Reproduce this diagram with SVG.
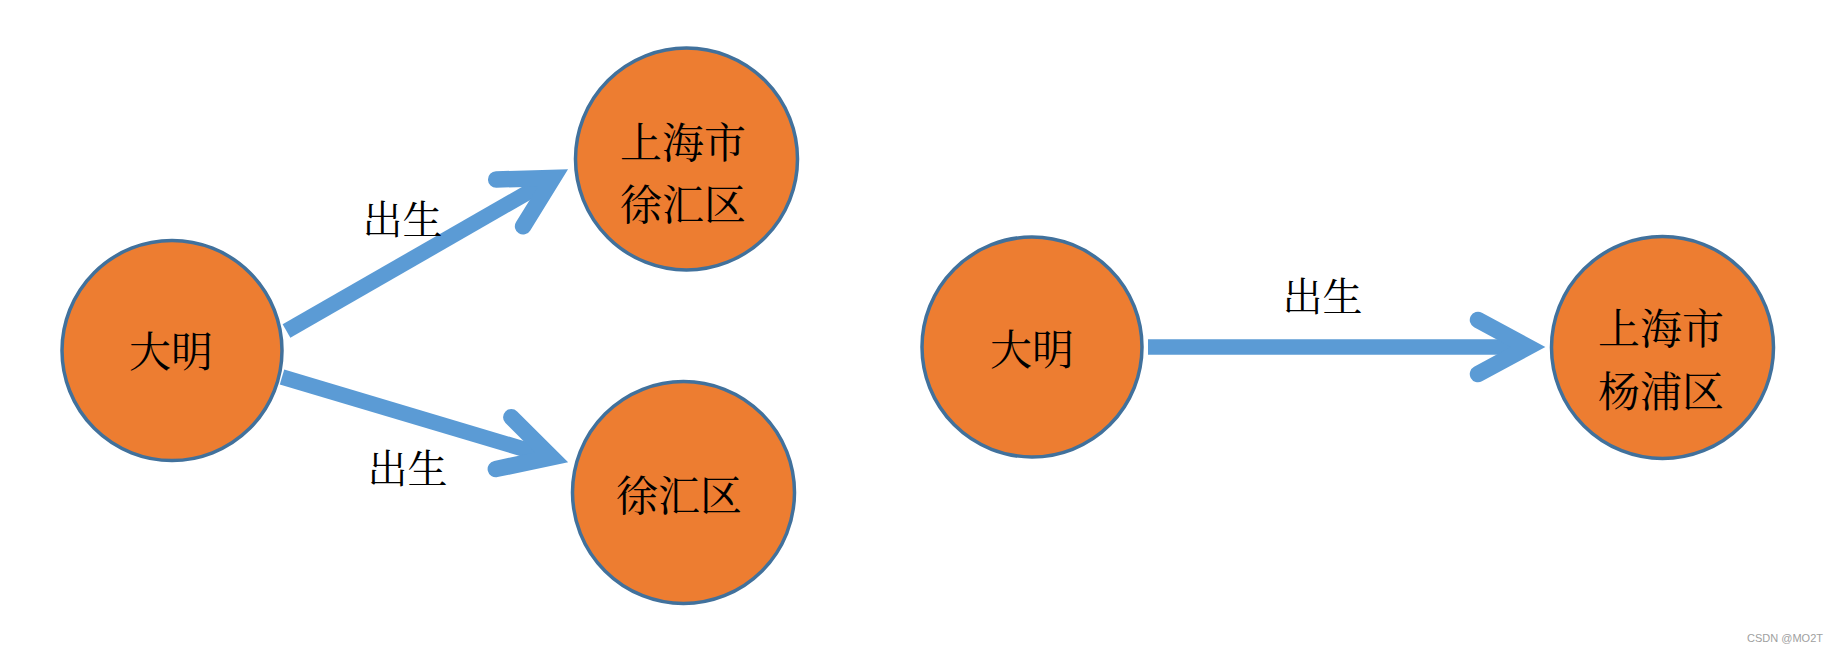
<svg xmlns="http://www.w3.org/2000/svg" width="1832" height="652" viewBox="0 0 1832 652">
<style>
.node circle{fill:#ED7D31;stroke:#41719C;stroke-width:3.5}
.node text,.lbl{font-family:"Noto Serif CJK SC","Noto Sans CJK SC",serif;font-size:42px;fill:#000;text-anchor:middle;dominant-baseline:central}
.lbl{font-size:40px}
.edge{stroke:#5B9BD5;stroke-width:15.5;fill:none;stroke-linecap:butt}
.wm{font-family:"Liberation Sans",Arial,sans-serif;font-size:11px;fill:#a0a0a0;text-anchor:end}
</style>
<defs>
<marker id="ah" markerUnits="userSpaceOnUse" orient="auto" viewBox="-70 -50 100 100" refX="0" refY="0" markerWidth="100" markerHeight="100" overflow="visible">
<path d="M-50,-27 L0,0 L-50,27" fill="none" stroke="#5B9BD5" stroke-width="16.5" stroke-linecap="round" stroke-linejoin="miter"/>
</marker>
</defs>
<rect width="1832" height="652" fill="#fff"/>
<g id="connectors">
<line class="edge" x1="286.5" y1="331" x2="553" y2="178" marker-end="url(#ah)"/>
<line class="edge" x1="282" y1="377" x2="551.5" y2="457.4" marker-end="url(#ah)"/>
<line class="edge" x1="1148" y1="347" x2="1528" y2="347" marker-end="url(#ah)"/>
<text class="lbl" x="402.5" y="216">出生</text>
<text class="lbl" x="407.5" y="465">出生</text>
<text class="lbl" x="1322.5" y="293">出生</text>
</g>
<g id="n-daming1" class="node">
<circle cx="172" cy="350.5" r="110"/>
<text x="171" y="349">大明</text>
</g>
<g id="n-xuhui1" class="node">
<circle cx="686.5" cy="159" r="111"/>
<text x="683" y="140">上海市</text>
<text x="683" y="201.5">徐汇区</text>
</g>
<g id="n-xuhui2" class="node">
<circle cx="683.5" cy="492.5" r="111"/>
<text x="679" y="493">徐汇区</text>
</g>
<g id="n-daming2" class="node">
<circle cx="1032" cy="347" r="110"/>
<text x="1032" y="347">大明</text>
</g>
<g id="n-yangpu" class="node">
<circle cx="1662.5" cy="347.5" r="111"/>
<text x="1661" y="326">上海市</text>
<text x="1661" y="388.5">杨浦区</text>
</g>
<text class="wm" x="1823" y="642">CSDN @MO2T</text>
</svg>
